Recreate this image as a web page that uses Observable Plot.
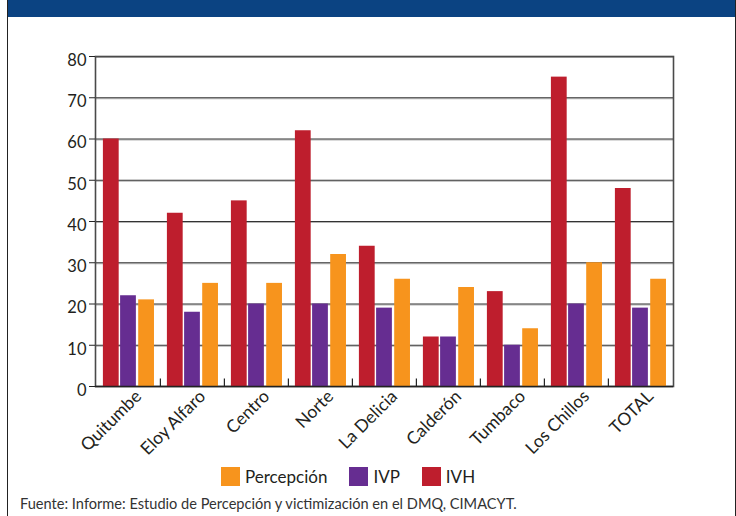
<!DOCTYPE html>
<html>
<head>
<meta charset="utf-8">
<script src="https://cdn.jsdelivr.net/npm/d3@7"></script>
<script src="https://cdn.jsdelivr.net/npm/@observablehq/plot@0.6"></script>
<style>
  body { margin: 0; background: #fff; font-family: Lato, "Open Sans", sans-serif; }
  #wrap { position: relative; width: 736px; height: 516px; overflow: hidden; background: #fff; }
  .banner { position: absolute; left: 7px; top: 0; width: 729px; height: 16.5px; background: #0b4382; }
  .bl { position: absolute; left: 7px; top: 0; width: 1.2px; height: 516px; background: #222; }
  .br { position: absolute; left: 734.5px; top: 0; width: 1.2px; height: 516px; background: #222; }
  #chart { position: absolute; left: 0; top: 0; }
  .legend { position: absolute; top: 467px; left: 221px; display: flex; align-items: center; font-size: 17px; color: #231f20; line-height: 19px; }
  .legend .sw { width: 19px; height: 19px; margin-right: 5px; }
  .legend .lab { margin-right: 22px; }
  .caption { position: absolute; left: 20px; top: 495px; font-size: 14.6px; color: #333; white-space: nowrap; }
</style>
</head>
<body>
<div id="wrap">
  <div class="banner"></div>
  <div class="bl"></div>
  <div class="br"></div>
  <div id="chart"></div>
  <div class="legend" id="legend"></div>
  <div class="caption">Fuente: Informe: Estudio de Percepción y victimización en el DMQ, CIMACYT.</div>
</div>
<script>
const categories = ["Quitumbe", "Eloy Alfaro", "Centro", "Norte", "La Delicia", "Calderón", "Tumbaco", "Los Chillos", "TOTAL"];
const ivh = [60, 42, 45, 62, 34, 12, 23, 75, 48];
const ivp = [22, 18, 20, 20, 19, 12, 10, 20, 19];
const percepcion = [21, 25, 25, 32, 26, 24, 14, 30, 26];
const yTicks = [0, 10, 20, 30, 40, 50, 60, 70, 80];
const seriesNames = ["Percepción", "IVP", "IVH"];
const seriesColors = ["#F7941D", "#662D91", "#BE1E2D"];

const rows = categories.map((c, i) => ({cat: c, ivh: ivh[i], ivp: ivp[i], perc: percepcion[i]}));

const W = 736, ML = 95, MR = 63;
const step = (W - ML - MR) / categories.length;

const chart = Plot.plot({
  width: W,
  height: 460,
  marginTop: 56,
  marginBottom: 74,
  marginLeft: ML,
  marginRight: MR,
  x: {domain: categories, padding: 0},
  y: {domain: [0, 80]},
  style: {fontFamily: "Lato, 'Open Sans', sans-serif", color: "#231f20", background: "transparent", overflow: "visible"},
  marks: [
    Plot.ruleY(yTicks.slice(1), {stroke: "#b5b5b5", strokeWidth: 1, dy: 1}),
    Plot.ruleY(yTicks.slice(1), {stroke: "#333", strokeWidth: 1.2}),
    Plot.frame({stroke: "#4a4a4a", strokeWidth: 1.6}),
    Plot.barY(rows, {x: "cat", y: "ivh", fill: seriesColors[2], insetLeft: 6.9, insetRight: step - 22.9}),
    Plot.barY(rows, {x: "cat", y: "ivp", fill: seriesColors[1], insetLeft: 24.1, insetRight: step - 40.1}),
    Plot.barY(rows, {x: "cat", y: "perc", fill: seriesColors[0], insetLeft: 42.2, insetRight: step - 58.2}),
    Plot.ruleY([0], {stroke: "#222", strokeWidth: 1.6}),
    Plot.ruleX(categories.slice(1), {x: d => d, y1: 0, y2: 1.8, dx: -step / 2, stroke: "#222", strokeWidth: 1.2}),
    Plot.axisY(yTicks, {fill: "none", tickSize: 6, stroke: "#222", label: null}),
    Plot.axisY(yTicks, {tickSize: 0, tickPadding: 9, dy: 4, fontSize: 16.5, label: null}),
    Plot.axisX({tickSize: 0, tickRotate: -45, tickPadding: 7, dx: 10, fontSize: 17.5, label: null})
  ]
});
document.getElementById("chart").appendChild(chart);

const legend = document.getElementById("legend");
seriesNames.forEach((n, i) => {
  const sw = document.createElement("div");
  sw.className = "sw";
  sw.style.background = seriesColors[i];
  const lab = document.createElement("span");
  lab.className = "lab";
  lab.textContent = n;
  legend.appendChild(sw);
  legend.appendChild(lab);
});
</script>
</body>
</html>
